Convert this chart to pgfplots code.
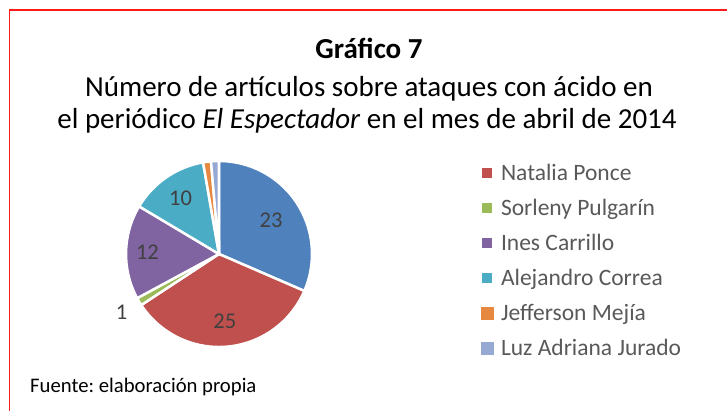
\documentclass[border=0pt]{standalone}
\usepackage{pgfplots}
\usepackage{pgfplotstable}
\pgfplotsset{compat=1.18}
\usepackage{fontspec}
\setmainfont{Carlito}
\frenchspacing
\definecolor{pc0}{HTML}{4F81BD}
\definecolor{pc1}{HTML}{C0504D}
\definecolor{pc2}{HTML}{9BBB59}
\definecolor{pc3}{HTML}{8064A2}
\definecolor{pc4}{HTML}{4BACC6}
\definecolor{pc5}{HTML}{E6883F}
\definecolor{pc6}{HTML}{95A9D3}
\definecolor{legtext}{HTML}{595959}
\definecolor{labtext}{HTML}{404040}
\definecolor{frame}{HTML}{FF1A1A}
\pgfplotsset{
  smalllegend/.style={legend image code/.code={\fill[##1, draw=none] (0bp,-5bp) rectangle (10bp,5bp);}},
  biglegend/.style={legend image code/.code={\fill[##1, draw=none] (-1.5bp,-6.5bp) rectangle (11.5bp,6.5bp);}},
}

% value, label radius (fraction of pie radius; 0 = no label)
\pgfplotstableread{
v  lr
23 0.67
25 0.73
1  1.22
12 0.77
10 0.73
1  0
1  0
}\piedata

\begin{document}
\pgfmathsetmacro\total{0}%
\pgfplotsforeachungrouped \i in {0,...,6}{%
  \pgfplotstablegetelem{\i}{v}\of\piedata
  \pgfmathsetmacro\total{\total+\pgfplotsretval}%
}%
\xdef\cum{90}%
\pgfplotsforeachungrouped \i in {0,...,6}{%
  \pgfplotstablegetelem{\i}{v}\of\piedata
  \expandafter\xdef\csname lv\i\endcsname{\pgfplotsretval}%
  \pgfmathsetmacro\ea{\cum-\pgfplotsretval/\total*360}%
  \pgfplotstablegetelem{\i}{lr}\of\piedata
  \pgfmathsetmacro\lx{\pgfplotsretval*cos((\cum+\ea)/2)}%
  \pgfmathsetmacro\ly{\pgfplotsretval*sin((\cum+\ea)/2)}%
  \expandafter\xdef\csname sa\i\endcsname{\cum}%
  \expandafter\xdef\csname ea\i\endcsname{\ea}%
  \expandafter\xdef\csname lx\i\endcsname{\lx}%
  \expandafter\xdef\csname ly\i\endcsname{\ly}%
  \xdef\cum{\ea}%
}%
\begin{tikzpicture}[x=1bp,y=1bp]
\path[use as bounding box] (0,0) rectangle (727,411);
\fill[white] (0,0) rectangle (727,411);
\draw[frame, line width=1.4bp] (9.5,0) -- (9.5,401) -- (727,401);

\node[anchor=base, inner sep=0, font=\fontsize{29bp}{34bp}\selectfont\bfseries] at (369,353) {Gráfico 7};
\node[anchor=base, inner sep=0, font=\fontsize{29bp}{34bp}\selectfont] at (369,314.5) {Número de artículos sobre ataques con ácido en};
\node[anchor=base, inner sep=0, font=\fontsize{29bp}{34bp}\selectfont] at (367,283) {el periódico \textit{El Espectador} en el mes de abril de 2014};
\node[anchor=base west, inner sep=0, font=\fontsize{20.7bp}{24bp}\selectfont] at (30,19) {Fuente: elaboración propia};

\begin{axis}[
  at={(219bp,157bp)}, anchor=center,
  scale only axis, width=186bp, height=186bp,
  xmin=-1, xmax=1, ymin=-1, ymax=1,
  hide axis, clip=false,
  legend cell align=left,
  legend style={
    at={(axis cs:2.812,0.989)}, anchor=north west,
    draw=none, fill=none, inner sep=0pt, outer sep=0pt,
    text=legtext,
    font=\fontsize{23.5bp}{26bp}\selectfont,
    row sep=13bp, column sep=7.5bp,
    nodes={inner sep=0pt, text height=18bp, text depth=4bp},
  },
]
\pgfplotsinvokeforeach{0,...,6}{%
  \fill[fill=pc#1, draw=white, line width=2.5bp]
    (axis cs:0,0) -- (axis cs:{cos(\csname sa#1\endcsname)},{sin(\csname sa#1\endcsname)})
    arc[start angle=\csname sa#1\endcsname, end angle=\csname ea#1\endcsname, radius=93bp] -- cycle;
}
\pgfplotsinvokeforeach{0,...,4}{%
  \node[text=labtext, font=\fontsize{22.5bp}{24bp}\selectfont, inner sep=0pt]
    at (axis cs:\csname lx#1\endcsname,\csname ly#1\endcsname) {\csname lv#1\endcsname};
}
\addlegendimage{fill=pc1, smalllegend}\addlegendentry{Natalia Ponce}
\addlegendimage{fill=pc2, smalllegend}\addlegendentry{Sorleny Pulgarín}
\addlegendimage{fill=pc3, smalllegend}\addlegendentry{Ines Carrillo}
\addlegendimage{fill=pc4, smalllegend}\addlegendentry{Alejandro Correa}
\addlegendimage{fill=pc5, biglegend}\addlegendentry{Jefferson Mejía}
\addlegendimage{fill=pc6, biglegend}\addlegendentry{Luz Adriana Jurado}
\end{axis}
\end{tikzpicture}
\end{document}
